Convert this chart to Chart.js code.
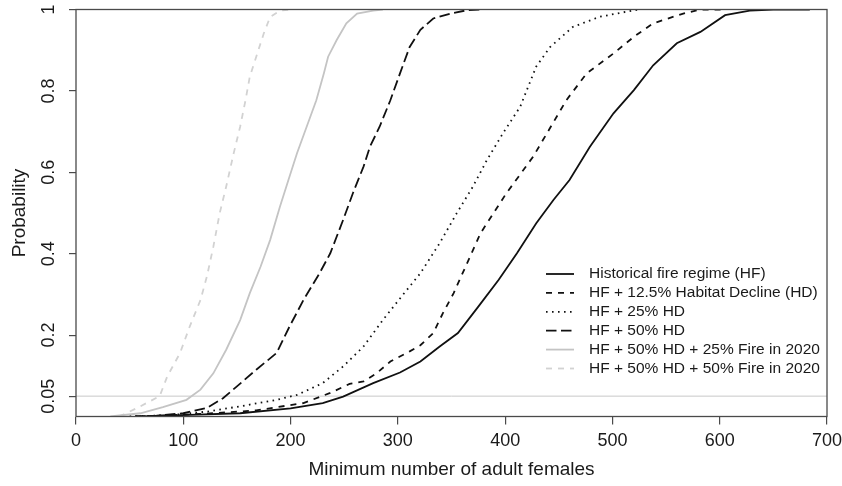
<!DOCTYPE html>
<html>
<head>
<meta charset="utf-8">
<script src="https://cdn.jsdelivr.net/npm/chart.js@4.4.1/dist/chart.umd.min.js"></script>
<style>
  html, body { margin: 0; padding: 0; background: #fff; }
</style>
</head>
<body>
<canvas id="cdfChart" width="842" height="486"></canvas>
<script>
// values (x = min. number of adult females, y = probability)
const hfX = [60, 106, 153, 200, 230, 249, 277, 302, 321, 339, 356, 375, 394, 411, 429, 445, 460, 479, 501, 520, 538, 560, 582, 605, 628, 650, 684];
const hfY = [0, 0.004, 0.008, 0.02, 0.033, 0.049, 0.082, 0.108, 0.135, 0.172, 0.205, 0.27, 0.336, 0.401, 0.475, 0.532, 0.581, 0.663, 0.745, 0.802, 0.863, 0.917, 0.945, 0.986, 0.997, 1, 1];

const hd125X = [55, 122, 168, 212, 237, 255, 268, 280, 293, 311, 321, 333, 342, 352, 377, 401, 426, 439, 457, 476, 501, 520, 538, 566, 582, 605];
const hd125Y = [0, 0.007, 0.015, 0.033, 0.058, 0.08, 0.086, 0.106, 0.135, 0.16, 0.175, 0.205, 0.254, 0.303, 0.45, 0.548, 0.638, 0.696, 0.777, 0.843, 0.892, 0.933, 0.966, 0.99, 1, 1];

const hd25X = [50, 91, 122, 153, 187, 206, 230, 249, 268, 286, 305, 321, 339, 355, 370, 383, 398, 414, 429, 442, 463, 488, 520, 525];
const hd25Y = [0, 0.004, 0.012, 0.025, 0.041, 0.053, 0.082, 0.123, 0.172, 0.237, 0.3, 0.352, 0.426, 0.5, 0.565, 0.63, 0.696, 0.761, 0.86, 0.908, 0.957, 0.982, 0.998, 1];

const hd50X = [55, 75, 100, 122, 137, 150, 168, 187, 199, 212, 227, 237, 249, 258, 268, 274, 283, 293, 302, 311, 321, 333, 349, 364, 377];
const hd50Y = [0, 0.002, 0.008, 0.021, 0.045, 0.074, 0.115, 0.156, 0.221, 0.286, 0.352, 0.401, 0.483, 0.548, 0.614, 0.663, 0.712, 0.777, 0.843, 0.908, 0.95, 0.978, 0.99, 0.998, 1];

const fire25X = [32, 60, 81, 103, 116, 128, 140, 153, 162, 172, 181, 190, 198, 206, 215, 224, 231, 235, 243, 252, 262, 277, 286];
const fire25Y = [0, 0.008, 0.023, 0.041, 0.066, 0.106, 0.164, 0.237, 0.303, 0.368, 0.434, 0.515, 0.581, 0.647, 0.712, 0.777, 0.843, 0.884, 0.925, 0.966, 0.99, 0.997, 1];

const fire50X = [40, 47, 60, 78, 85, 97, 106, 116, 122, 128, 134, 140, 147, 153, 158, 162, 168, 175, 181, 190, 200];
const fire50Y = [0, 0.008, 0.025, 0.05, 0.098, 0.156, 0.221, 0.286, 0.344, 0.417, 0.5, 0.565, 0.647, 0.712, 0.777, 0.835, 0.884, 0.941, 0.982, 0.997, 1];

const refLineX = [0, 700];
const refLineY = [0.05, 0.05];

const seriesLabels = [
  'Historical fire regime (HF)',
  'HF + 12.5% Habitat Decline (HD)',
  'HF + 25% HD',
  'HF + 50% HD',
  'HF + 50% HD + 25% Fire in 2020',
  'HF + 50% HD + 50% Fire in 2020'
];

const xTickValues = [0, 100, 200, 300, 400, 500, 600, 700];
const yTickValues = [0.05, 0.2, 0.4, 0.6, 0.8, 1];

const fontFamily = '"Liberation Sans", Arial, Helvetica, sans-serif';

function toPoints(xs, ys) {
  return xs.map((x, i) => ({ x: x, y: ys[i] }));
}

function curve(label, xs, ys, color, dash, width) {
  return {
    label: label,
    data: toPoints(xs, ys),
    borderColor: color,
    borderWidth: width,
    borderDash: dash,
    showLine: true,
    pointRadius: 0,
    tension: 0,
    fill: false,
    inLegend: true
  };
}

// legend drawn inside the plot, like R's legend(..., bty = "n")
const insideLegend = {
  id: 'insideLegend',
  afterDatasetsDraw(chart) {
    const ctx = chart.ctx;
    const area = chart.chartArea;
    const lineStart = area.right - 281;
    const lineEnd = lineStart + 28;
    const textX = lineStart + 43;
    let rowY = area.top + 264.5;
    ctx.save();
    ctx.font = '15.5px ' + fontFamily;
    ctx.textBaseline = 'middle';
    ctx.textAlign = 'left';
    chart.data.datasets.forEach(ds => {
      if (!ds.inLegend) return;
      ctx.strokeStyle = ds.borderColor;
      ctx.lineWidth = ds.borderWidth;
      ctx.setLineDash(ds.borderDash);
      ctx.beginPath();
      ctx.moveTo(lineStart, rowY);
      ctx.lineTo(lineEnd, rowY);
      ctx.stroke();
      ctx.setLineDash([]);
      ctx.fillStyle = '#1a1a1a';
      ctx.fillText(ds.label, textX, rowY);
      rowY += 18.9;
    });
    ctx.restore();
  }
};

// box around the plot region
const plotFrame = {
  id: 'plotFrame',
  afterDraw(chart) {
    const ctx = chart.ctx;
    const a = chart.chartArea;
    ctx.save();
    ctx.strokeStyle = '#4a4a4a';
    ctx.lineWidth = 1.3;
    ctx.strokeRect(a.left, a.top, a.right - a.left, a.bottom - a.top);
    ctx.restore();
  }
};

const datasets = [
  curve(seriesLabels[0], hfX, hfY, '#111111', [], 1.8),
  curve(seriesLabels[1], hd125X, hd125Y, '#111111', [6, 6], 1.8),
  curve(seriesLabels[2], hd25X, hd25Y, '#111111', [1.6, 4.4], 1.8),
  curve(seriesLabels[3], hd50X, hd50Y, '#111111', [10.5, 4.5], 1.8),
  curve(seriesLabels[4], fire25X, fire25Y, '#c4c4c4', [], 1.8),
  curve(seriesLabels[5], fire50X, fire50Y, '#d2d2d2', [6, 6], 1.8),
  {
    label: 'p = 0.05',
    data: toPoints(refLineX, refLineY),
    borderColor: '#c8c8c8',
    borderWidth: 1,
    showLine: true,
    pointRadius: 0,
    inLegend: false
  }
];

new Chart(document.getElementById('cdfChart'), {
  type: 'scatter',
  data: { datasets: datasets },
  options: {
    responsive: false,
    animation: false,
    layout: { padding: { left: 0, right: 15, top: 9.5, bottom: 0 } },
    plugins: {
      legend: { display: false },
      tooltip: { enabled: false }
    },
    scales: {
      x: {
        type: 'linear',
        min: 0,
        max: 700,
        afterBuildTicks: scale => { scale.ticks = xTickValues.map(v => ({ value: v })); },
        afterFit: scale => {
          scale.height = 69.5;
          scale.paddingLeft = 0;
          scale.paddingRight = 0;
        },
        border: { display: false },
        grid: { display: true, drawOnChartArea: false, drawTicks: true, tickLength: 8, color: '#4a4a4a', lineWidth: 1.2 },
        ticks: { padding: 6, color: '#1a1a1a', font: { family: fontFamily, size: 18 }, maxRotation: 0 },
        title: {
          display: true,
          text: 'Minimum number of adult females',
          color: '#1a1a1a',
          font: { family: fontFamily, size: 19 },
          padding: { top: 0, bottom: 5 }
        }
      },
      y: {
        type: 'linear',
        min: 0,
        max: 1,
        afterBuildTicks: scale => { scale.ticks = yTickValues.map(v => ({ value: v })); },
        afterFit: scale => {
          scale.width = 76;
          scale.paddingTop = 0;
          scale.paddingBottom = 0;
        },
        border: { display: false },
        grid: { display: true, drawOnChartArea: false, drawTicks: true, tickLength: 7, color: '#4a4a4a', lineWidth: 1.2 },
        ticks: {
          padding: 2,
          minRotation: 90,
          maxRotation: 90,
          crossAlign: 'center',
          color: '#1a1a1a',
          font: { family: fontFamily, size: 18 },
          callback: v => String(v)
        },
        title: {
          display: true,
          text: 'Probability',
          color: '#1a1a1a',
          font: { family: fontFamily, size: 19 },
          padding: { top: 8.5, bottom: 0 }
        }
      }
    }
  },
  plugins: [insideLegend, plotFrame]
});
</script>
</body>
</html>
